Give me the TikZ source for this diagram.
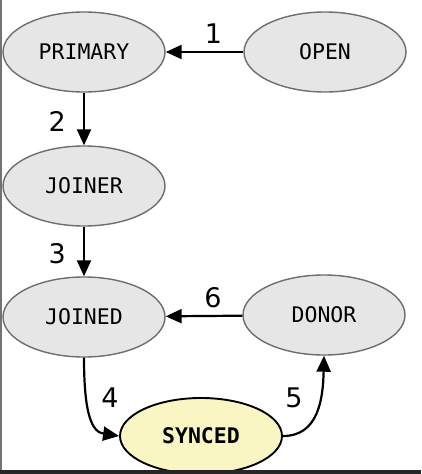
\documentclass[tikz,border=0pt]{standalone}
\usepackage{fontspec}
\setmainfont{DejaVu Sans}
\newfontfamily\statefont{DejaVu Sans Mono}
\usetikzlibrary{shapes.geometric,arrows.meta}
\definecolor{stategray}{HTML}{E6E6E6}
\definecolor{stateedge}{HTML}{6E6E6E}
\definecolor{syncfill}{HTML}{FAF6C4}
\tikzset{
  state/.style={ellipse, draw=stateedge, line width=1.4pt, fill=stategray,
    minimum width=162pt, minimum height=80pt, inner sep=0pt,
    font=\statefont\fontsize{21.5}{24}\selectfont},
  syncstate/.style={state, draw=black, line width=1.9pt, fill=syncfill, font=\statefont\bfseries\fontsize{21.5}{24}\selectfont, minimum height=76pt},
  trans/.style={line width=2.2pt, -{Triangle[length=16pt,width=14pt]}},
  num/.style={font=\fontsize{27}{30}\selectfont, inner sep=0pt}
}
\begin{document}
\begin{tikzpicture}[x=1pt,y=-1pt]
\useasboundingbox (0,0) rectangle (421,474);
\fill[white] (0,0) rectangle (421,474);
\node[state] (primary) at (84,52) {PRIMARY};
\node[state] (open) at (325,52) {OPEN};
\node[state] (joiner) at (84,186) {JOINER};
\node[state] (joined) at (84,317) {JOINED};
\node[state] (donor) at (324,315) {DONOR};
\node[syncstate] (synced) at (201,436) {SYNCED};
\draw[trans] (open) -- (primary) node[num, midway, above=7pt, xshift=9pt] {1};
\draw[trans] (primary) -- (joiner) node[num, midway, left=17pt, yshift=-2pt] {2};
\draw[trans] (joiner) -- (joined) node[num, midway, left=17pt, yshift=-2pt] {3};
\draw[trans] (donor) -- (joined) node[num, midway, above=7pt, xshift=9pt] {6};
\draw[trans] (joined.south) .. controls (84,415) and (92,432) .. (synced.west);
\node[num] (lfour) at (110,398) {4};
\node[num] (lfive) at (294,398) {5};
\draw[trans] (synced.east) .. controls (318,436) and (323,400) .. (donor.south);
\fill[black!85] (0,470) rectangle (421,474);
\fill[black!55] (0,0) rectangle (1.5,470);
\end{tikzpicture}
\end{document}
